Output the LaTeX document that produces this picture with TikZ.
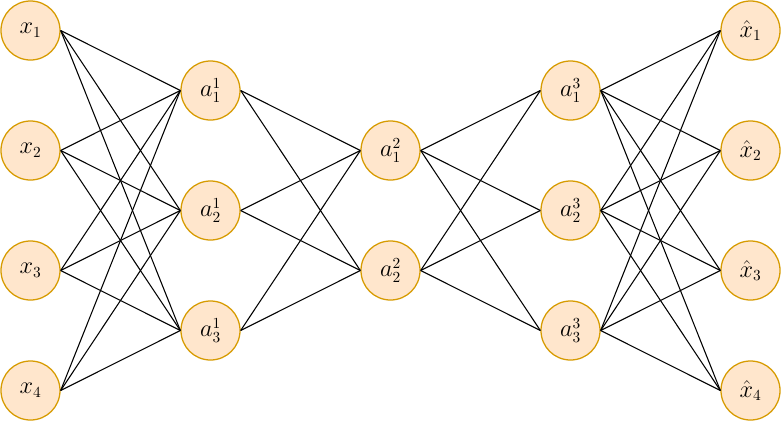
\documentclass[tikz,border=0pt]{standalone}
\usepackage{amsmath}
\usepackage{tikz}
\usetikzlibrary{positioning}
\definecolor{aefill}{HTML}{FFE6CC}
\definecolor{aedraw}{HTML}{D79B00}
\tikzset{
 neuron/.style={circle, draw=aedraw, fill=aefill, line width=0.9pt,
 minimum size=1.475cm, inner sep=0pt, font=\fontsize{16}{18}\selectfont},
 wire/.style={draw=black, line width=0.75pt},
}

\begin{document}
\begin{tikzpicture}[x=0.025cm, y=-0.025cm]
\useasboundingbox (0,0) rectangle (782,422);

% input layer
\foreach \i/\y in {1/30.5, 2/150.5, 3/270.5, 4/390.5}
  \node[neuron] (x\i) at (30.5,\y) {$x_{\i}$};

% encoder hidden layer
\foreach \i/\y in {1/90.5, 2/210.5, 3/330.5}
  \node[neuron] (h\i) at (210.5,\y) {$a_{\i}^{1}$};

% code layer
\foreach \i/\y in {1/150.5, 2/270.5}
  \node[neuron] (c\i) at (390.5,\y) {$a_{\i}^{2}$};

% decoder hidden layer
\foreach \i/\y in {1/90.5, 2/210.5, 3/330.5}
  \node[neuron] (d\i) at (570.5,\y) {$a_{\i}^{3}$};

% output layer
\foreach \i/\y in {1/30.5, 2/150.5, 3/270.5, 4/390.5}
  \node[neuron] (y\i) at (750.5,\y) {$\hat{x}_{\i}$};

% connections
\foreach \i in {1,...,4}
  \foreach \j in {1,...,3}
    \draw[wire] (x\i.east) -- (h\j.west);
\foreach \i in {1,...,3}
  \foreach \j in {1,2}
    \draw[wire] (h\i.east) -- (c\j.west);
\foreach \i in {1,2}
  \foreach \j in {1,...,3}
    \draw[wire] (c\i.east) -- (d\j.west);
\foreach \i in {1,...,3}
  \foreach \j in {1,...,4}
    \draw[wire] (d\i.east) -- (y\j.west);

\end{tikzpicture}
\end{document}
